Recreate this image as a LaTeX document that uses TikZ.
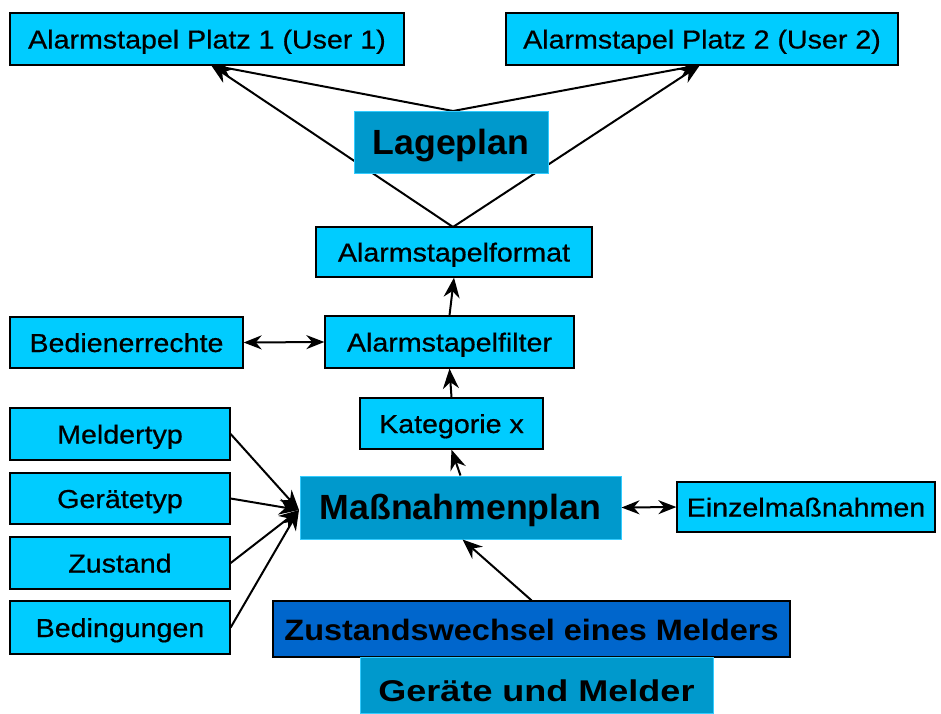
\documentclass[tikz,border=0pt]{standalone}
\usepackage{fontspec}
\setmainfont{Liberation Sans}
\newfontfamily\smallf[FakeStretch=1.1,FakeBold=0.6]{Liberation Sans}
\newfontfamily\bigf[FakeStretch=1.02]{Liberation Sans}
\newfontfamily\zwf[FakeStretch=1.1]{Liberation Sans}
\newfontfamily\gumf[FakeStretch=1.2]{Liberation Sans}
\usetikzlibrary{arrows.meta,backgrounds,calc}
\definecolor{lightc}{HTML}{00CCFF}
\definecolor{midc}{HTML}{0099CC}
\definecolor{darkc}{HTML}{0066CC}
\definecolor{edgec}{HTML}{33CCFF}
\tikzset{
  lbox/.style={draw=black, line width=1.3pt, fill=lightc, inner sep=0pt, text height=19pt, text depth=0pt, font=\smallf\fontsize{26}{30}\selectfont},
  mbox/.style={draw=edgec, line width=1pt, fill=midc, inner sep=0pt, text height=24pt, text depth=0pt, font=\bigf\bfseries\fontsize{35}{40}\selectfont},
  conn/.style={line width=2pt, -{Stealth[length=20pt,width=16pt]}},
  bconn/.style={line width=2pt, {Stealth[length=18pt,width=14pt]}-{Stealth[length=18pt,width=14pt]}}
}
\begin{document}
\begin{tikzpicture}[x=1pt,y=-1pt]
\useasboundingbox (0,0) rectangle (941,713);
\node[lbox, minimum width=394pt, minimum height=52pt] (a1) at (207,39) {Alarmstapel Platz 1 (User 1)};
\node[lbox, minimum width=392pt, minimum height=52pt] (a2) at (702,39) {Alarmstapel Platz 2 (User 2)};
\node[mbox, minimum width=194pt, minimum height=62pt] (lage) at (451,142) {Lageplan};
\node[lbox, minimum width=276pt, minimum height=50pt] (fmt) at (454,252) {Alarmstapelformat};
\node[lbox, minimum width=249pt, minimum height=52pt] (filt) at (449.5,342) {Alarmstapelfilter};
\node[lbox, minimum width=233pt, minimum height=51pt] (bed) at (126.5,342.5) {Bedienerrechte};
\node[lbox, minimum width=183pt, minimum height=51pt] (kat) at (451.5,423.5) {Kategorie x};
\node[lbox, minimum width=220pt, minimum height=52pt] (mel) at (120,434) {Meldertyp};
\node[lbox, minimum width=220pt, minimum height=51pt] (ger) at (120,498.5) {Gerätetyp};
\node[lbox, minimum width=220pt, minimum height=52pt] (zus) at (120,563) {Zustand};
\node[lbox, minimum width=220pt, minimum height=53pt] (bdg) at (120,627.5) {Bedingungen};
\node[mbox, minimum width=321pt, minimum height=63pt] (mass) at (460.5,507.5) {Maßnahmenplan};
\node[lbox, minimum width=258pt, minimum height=50pt] (einz) at (806,507) {Einzelmaßnahmen};
\node[draw=black, line width=1.3pt, fill=darkc, inner sep=0pt, minimum width=517pt, minimum height=56pt, text height=22pt, text depth=0pt, font=\zwf\bfseries\fontsize{29.5}{34}\selectfont] (zw) at (531.5,629) {Zustandswechsel eines Melders};
\node[mbox, minimum width=353pt, minimum height=56pt, text height=32pt, font=\gumf\bfseries\fontsize{30}{34}\selectfont] (gum) at (536.5,685) {Geräte und Melder};
\coordinate (top1) at (453,111);
\coordinate (tip1) at (211,65);
\coordinate (tip2) at (700,65);
\coordinate (top2) at (453,227);
\begin{pgfonlayer}{background}
\draw[conn] (top1) -- (tip1);
\draw[conn] (top1) -- (tip2);
\draw[conn] (top2) -- (tip1);
\draw[conn] (top2) -- (tip2);
\end{pgfonlayer}
\draw[conn] (filt.north) -- (fmt.south);
\draw[conn] (kat.north) -- (filt.south);
\draw[conn] (mass.north) -- (kat.south);
\draw[bconn] (bed.east) -- (filt.west);
\draw[bconn] (mass.east) -- (einz.west);
\coordinate (mw) at (299,510);
\draw[conn] (mel.east) -- (mw);
\draw[conn] (ger.east) -- (mw);
\draw[conn] (zus.east) -- (mw);
\draw[conn] (bdg.east) -- (mw);
\draw[conn] (zw.north) -- ($(mass.south)+(2,0)$);
\end{tikzpicture}
\end{document}
